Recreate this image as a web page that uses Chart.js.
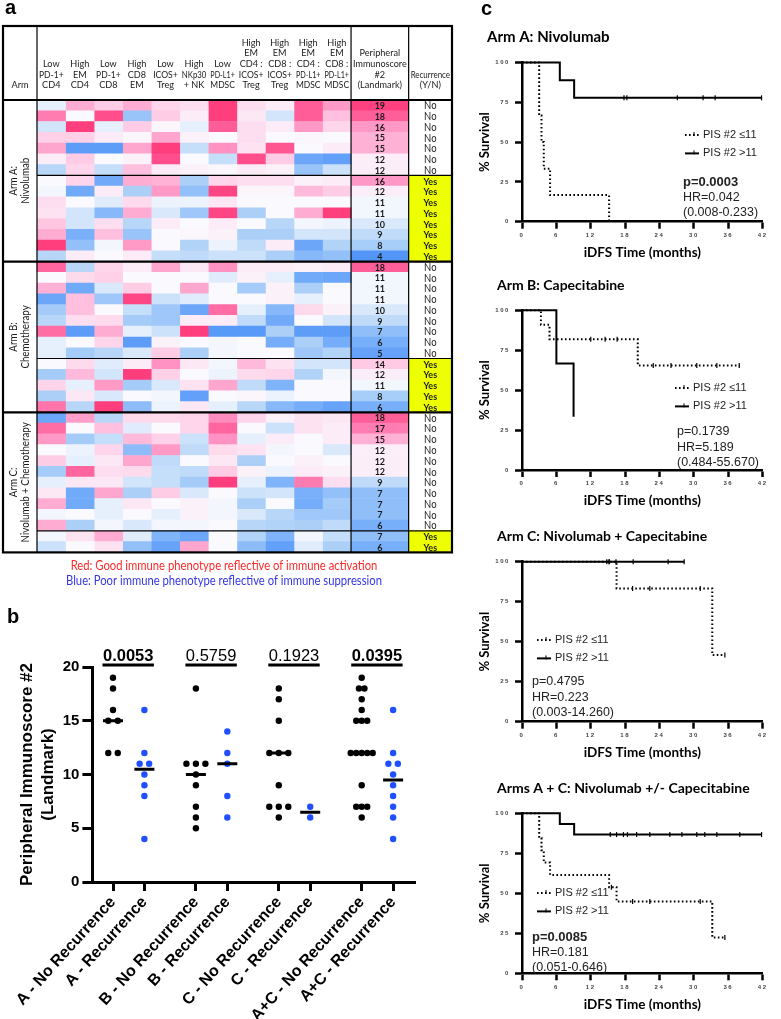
<!DOCTYPE html>
<html>
<head>
<meta charset="utf-8">
<script src="https://cdn.jsdelivr.net/npm/chart.js@4.4.1/dist/chart.umd.min.js"></script>
<style>
  html, body { margin: 0; padding: 0; background: #fff; }
  body { width: 781px; height: 1019px; position: relative; overflow: hidden; }
  canvas { position: absolute; }
</style>
</head>
<body>
<canvas id="heat" width="460" height="600" style="left:0;top:0"></canvas>
<canvas id="dots" width="460" height="419" style="left:0;top:600px"></canvas>
<canvas id="km0" width="321" height="260" style="left:460px;top:0"></canvas>
<canvas id="km1" width="321" height="260" style="left:460px;top:250px"></canvas>
<canvas id="km2" width="321" height="260" style="left:460px;top:500px"></canvas>
<canvas id="km3" width="321" height="269" style="left:460px;top:750px"></canvas>
<script>
// ---------- panel a: heatmap table ----------
const MARKERS = [
  ["Low", "PD-1+", "CD4"], ["High", "EM", "CD4"], ["Low", "PD-1+", "CD8"], ["High", "CD8", "EM"],
  ["Low", "ICOS+", "Treg"], ["High", "NKp30", "+ NK"], ["Low", "PD-L1+", "MDSC"],
  ["High", "EM", "CD4 :", "ICOS+", "Treg"], ["High", "EM", "CD8 :", "ICOS+", "Treg"],
  ["High", "EM", "CD4 :", "PD-L1+", "MDSC"], ["High", "EM", "CD8 :", "PD-L1+", "MDSC"]
]
const PIS_HEADER = ["Peripheral", "Immunoscore", "#2", "(Landmark)"]
const REC_HEADER = ["Recurrence", "(Y/N)"]
const ARM_NAMES = [["Arm A:", "Nivolumab"], ["Arm B:", "Chemotherapy"], ["Arm C:", "Nivolumab + Chemotherapy"]]

const PIS_A = [19, 18, 16, 15, 15, 12, 12, 16, 12, 11, 11, 10, 9, 8, 4]
const REC_A = ["No", "No", "No", "No", "No", "No", "No", "Yes", "Yes", "Yes", "Yes", "Yes", "Yes", "Yes", "Yes"]
const CELLS_A = [
  [-0.3, 1.5, 1.0, 1.5, 0.8, 0.6, 3.0, 0.6, 0.3, 2.6, 1.8],
  [2.2, 0, 2.8, -1.5, 1.0, 0.3, 3.0, 0.4, -0.6, 2.6, 1.2],
  [-0.6, 3.0, -0.3, 1.0, 0.1, -0.3, 2.6, 0.6, 0.3, 1.8, 0.8],
  [0.9, 0.9, 0.3, 0.1, 1.6, 0.2, 0, 0.6, 0, 0.1, 0],
  [1.6, -2.6, -2.6, 1.6, 3.0, -0.8, 1.9, 0.5, 2.7, 0, 0.3],
  [0.3, 1.0, 0, 0.2, 2.8, 0, -0.8, 2.8, 1.0, -2.3, -2.5],
  [-1.0, 0.8, -0.8, 1.2, 0.3, 0.2, 0.1, 0.3, 0.2, -1.5, -0.7],
  [0, 0.8, -2.2, 1.5, 1.4, -1.2, 0.8, 0.6, 0.6, 0.2, 0.3],
  [-0.1, -2.2, 0.3, -1.2, 1.8, -1.6, 2.9, 0.1, 0.1, 1.3, 1.0],
  [0.6, 0, -0.4, 0.7, -0.2, -0.2, 0.4, 0, 0, 0, 0],
  [0.5, -0.6, -1.8, 1.5, -0.5, -1.4, 2.9, -1.2, 0, 1.5, 3.0],
  [1.1, -0.6, 0.6, -1.0, 0.3, 0, 0.3, 0, -1.0, -0.1, -0.2],
  [1.5, -2.0, 1.2, -1.5, 0, 0.1, 0.2, -1.2, -1.2, -0.6, -0.6],
  [3.0, -1.6, -0.1, 1.8, 0, -1.1, -0.2, -0.9, 0.3, -2.3, -1.1],
  [-1.0, 0.3, 0, 0.3, -0.8, -0.9, -0.7, -0.7, -1.2, -1.8, -1.6]
]

const PIS_B = [18, 11, 11, 11, 10, 9, 7, 6, 5, 14, 12, 11, 8, 6]
const REC_B = ["No", "No", "No", "No", "No", "No", "No", "No", "No", "Yes", "Yes", "Yes", "Yes", "Yes"]
const CELLS_B = [
  [2.5, -1.0, 0.8, 0.3, 1.6, 0.4, 1.9, 0.3, 0.3, 0.2, 0.3],
  [0, 0.7, 0.9, 0, 0, 0, -0.4, 0.2, -0.3, -2.2, -2.3],
  [1.4, -2.2, -0.5, 1.0, 0, 1.6, 0, -1.3, 0.2, -1.2, 0],
  [-2.3, 1.2, -1.4, 2.9, -0.7, -0.4, 0, 0, 0.2, -0.3, 0],
  [-1.3, 1.2, 0, -0.8, -1.4, -2.3, 2.4, -0.3, -1.8, 0.7, 0.2],
  [-1.0, 0.6, 0.7, -1.3, -1.4, 0.3, 0.3, -0.9, -2.2, 0, -0.6],
  [2.4, -2.6, 1.5, -0.3, -0.7, 3.0, -2.7, -2.7, -1.2, -2.6, -2.6],
  [-0.3, 0, 0.8, -2.6, 0.2, 0, -0.1, 0, -2.1, -1.2, -2.1],
  [-0.3, -1.3, -1.0, -0.5, 1.0, -1.2, -0.1, 0, 0, -1.4, -1.1],
  [0, 0.7, -0.4, 0.3, 1.9, 0.4, -0.1, 1.3, 0.5, -0.6, -0.6],
  [-1.3, 1.3, -0.6, 3.0, 0.9, 0, -0.2, 0.7, 0.8, -1.1, -0.1],
  [0.8, -0.3, 1.8, -1.3, -0.5, 0.5, 1.6, -0.9, -1.9, 0, 0],
  [-1.2, 0.4, -0.5, 0, -0.1, -2.5, 0, 0.1, -0.2, 0, 0],
  [2.3, -1.0, 3.0, -1.7, -0.2, 0.4, -0.3, -1.0, -1.8, -2.1, -2.4]
]

const PIS_C = [18, 17, 15, 12, 12, 12, 9, 7, 7, 7, 6, 7, 6]
const REC_C = ["No", "No", "No", "No", "No", "No", "No", "No", "No", "No", "No", "Yes", "Yes"]
const CELLS_C = [
  [-2.3, 1.7, -1.0, 0.7, 0.7, 0.8, 2.0, 0.8, 0.2, 0.5, 0.4],
  [2.4, 0, 1.2, -0.4, 0, 0.8, 2.5, 0, -0.7, 0.5, 0.3],
  [1.8, -1.3, -0.8, 1.3, 0.9, -0.7, 1.9, -0.3, 0.3, 0, 0.3],
  [0, -0.2, 0.8, -1.7, 1.8, -0.9, 0.7, 0.5, -0.1, 0, -0.5],
  [1.0, -0.3, 0.4, 1.6, -0.9, 0, 0.4, -1.2, 0, 0.2, 0],
  [-1.3, 2.5, 0.6, 0.7, -0.8, -0.9, 1.0, 0.2, -0.2, 0.3, 0.2],
  [-0.3, 0.4, 0.4, -0.6, -0.8, -1.3, 3.0, -0.3, -1.9, 2.2, 0.6],
  [0.4, -2.2, 1.6, -1.2, 1.0, -0.5, 0, -0.7, -0.6, -2.0, -1.6],
  [1.5, -2.2, -0.3, 0.4, 0, 0.2, -0.1, -1.2, 0, -2.1, -1.3],
  [-0.1, 0, -0.3, 0, -0.3, 0.2, -0.1, -0.5, -1.0, -1.4, -1.4],
  [1.5, -1.2, -0.1, -0.5, -0.1, -0.1, 0, -1.0, -1.1, -1.2, -0.9],
  [-0.1, 0.5, 1.5, -0.4, -1.9, -2.3, 0, -1.1, -1.9, -0.1, -0.8],
  [-0.7, 0, 0.5, -1.6, -2.4, 1.6, 0, -1.7, -2.5, -0.4, -1.2]
]

const LEGEND_RED = "Red: Good immune phenotype reflective of immune activation"
const LEGEND_BLUE = "Blue: Poor immune phenotype reflective of immune suppression"

// ---------- panel b: dot plot ----------
const GROUP_LABELS = ["A - No Recurrence", "A - Recurrence", "B - No Recurrence", "B - Recurrence",
  "C - No Recurrence", "C - Recurrence", "A+C - No Recurrence", "A+C - Recurrence"]
const P_VALUES = ["0.0053", "0.5759", "0.1923", "0.0395"]
const P_BOLD = [true, false, false, true]

// ---------- panel c: Kaplan-Meier ----------
const KM_TITLES = ["Arm A: Nivolumab", "Arm B: Capecitabine", "Arm C: Nivolumab + Capecitabine", "Arms A + C: Nivolumab +/- Capecitabine"]
const KM_SERIES = ["PIS #2 \u226411", "PIS #2 >11"]
const KM_P = ["p=0.0003", "p=0.1739", "p=0.4795", "p=0.0085"]
const KM_P_BOLD = [true, false, false, true]
const KM_HR = ["HR=0.042", "HR=5.189", "HR=0.223", "HR=0.181"]
const KM_CI = ["(0.008-0.233)", "(0.484-55.670)", "(0.003-14.260)", "(0.051-0.646)"]

const A_LO_T = [0, 3.0, 3.4, 3.8, 4.9, 15.2]
const A_LO_S = [100, 66.7, 50, 33.3, 16.7, 0]
const A_LO_CENS = []
const A_HI_T = [0, 6.6, 9.1, 41.8]
const A_HI_S = [100, 88.9, 77.8, 77.8]
const A_HI_CENS = [17.8, 18.3, 27.1, 31.6, 33.7, 41.8]

const B_LO_T = [0, 3.3, 4.8, 20.2, 38.0]
const B_LO_S = [100, 90.9, 81.8, 65.5, 65.5]
const B_LO_CENS = [12.0, 14.5, 16.6, 22.9, 26.0, 30.5, 34.0, 37.9]
const B_HI_T = [0, 6.0, 9.0]
const B_HI_S = [100, 66.7, 33.3]
const B_HI_CENS = []

const C_LO_T = [0, 16.5, 33.2, 35.4]
const C_LO_S = [100, 83.3, 41.7, 41.7]
const C_LO_CENS = [15.2, 19.3, 22.3, 31.1, 35.4]
const C_HI_T = [0, 28.3]
const C_HI_S = [100, 100]
const C_HI_CENS = [14.8, 15.2, 16.4, 19.4, 25.5, 28.3]

const AC_LO_T = [0, 3.0, 3.4, 3.8, 4.9, 15.2, 16.5, 33.2, 35.4]
const AC_LO_S = [100, 84.6, 76.9, 69.2, 61.5, 53.8, 44.9, 22.4, 22.4]
const AC_LO_CENS = [15.6, 19.3, 22.3, 31.1, 35.4]
const AC_HI_T = [0, 6.6, 9.1, 41.8]
const AC_HI_S = [100, 93.3, 86.7, 86.7]
const AC_HI_CENS = [15.4, 16.5, 17.7, 18.4, 20.0, 22.3, 25.8, 27.9, 30.5, 31.9, 34.0, 38.0, 41.8]

// ---------- layout ----------
const SANS = "'Liberation Sans', Arial, sans-serif"
const CAL = "Lato, 'Open Sans', sans-serif"
const TABLE = { left: 3, top: 26, head: 100, bottom: 552.4, right: 452 }
const ARM_W = 34, CELL_W = 28.55, PIS_W = 57.6
const EDGES = [0, ARM_W]
for (let i = 1; i <= MARKERS.length; ++i) EDGES.push(ARM_W + CELL_W * i)
EDGES.push(EDGES[EDGES.length - 1] + PIS_W)
EDGES.push(TABLE.right - TABLE.left)

Chart.defaults.font.family = SANS
Chart.defaults.color = "#000"

// Lato is wider than the Calibri of the original, so squeeze it a little
function fillNarrow(ctx, text, x, y, sx, maxW) {
  if (maxW) sx = Math.min(sx, maxW / ctx.measureText(text).width)
  ctx.save()
  ctx.translate(x, y)
  ctx.scale(sx, 1)
  ctx.fillText(text, 0, 0)
  ctx.restore()
}

function heatColor(v) {
  const stops = [[-3, [74, 144, 247]], [-2, [122, 176, 250]], [-1, [184, 215, 248]], [0, [250, 250, 254]],
    [1, [255, 204, 230]], [2, [255, 140, 190]], [3, [255, 62, 126]]]
  v = Math.max(-3, Math.min(3, v))
  for (let i = 0; i < stops.length - 1; ++i) {
    const [a, ca] = stops[i], [b, cb] = stops[i + 1]
    if (v <= b) {
      const t = (v - a) / (b - a)
      return "rgb(" + ca.map((c, k) => Math.round(c + (cb[k] - c) * t)).join(",") + ")"
    }
  }
}
const pisColor = p => heatColor((p - 11.3) / 2.6)

const rows = []
;[[PIS_A, REC_A, CELLS_A], [PIS_B, REC_B, CELLS_B], [PIS_C, REC_C, CELLS_C]].forEach(([pis, rec, cells], arm) => {
  pis.forEach((p, i) => rows.push({ arm, pis: p, rec: rec[i], cells: cells[i] }))
})

const heatDatasets = MARKERS.map((m, c) => ({
  data: rows.map(() => [EDGES[c + 1], EDGES[c + 2]]),
  backgroundColor: rows.map(r => heatColor(r.cells[c])),
}))
heatDatasets.push({ data: rows.map(() => [EDGES[12], EDGES[13]]), backgroundColor: rows.map(r => pisColor(r.pis)) })
heatDatasets.push({ data: rows.map(() => [EDGES[13], EDGES[14]]), backgroundColor: rows.map(r => r.rec == "Yes" ? "#eeff00" : "#ffffff") })
heatDatasets.forEach(d => { d.grouped = false; d.barPercentage = 1; d.categoryPercentage = 1; d.borderWidth = 0 })

const heatDecor = {
  id: "heatDecor",
  afterDatasetsDraw(chart) {
    const { ctx, chartArea: a } = chart
    const px = v => chart.scales.x.getPixelForValue(v)
    const rowH = (a.bottom - a.top) / rows.length
    const rowY = i => a.top + i * rowH
    const mid = c => (px(EDGES[c]) + px(EDGES[c + 1])) / 2
    const width = c => px(EDGES[c + 1]) - px(EDGES[c])
    ctx.save()

    ctx.fillStyle = "#000"
    ctx.font = "bold 20px " + SANS
    ctx.textAlign = "left"
    ctx.textBaseline = "alphabetic"
    ctx.fillText("a", 5, 14)

    // header
    ctx.fillStyle = "#1a1a1a"
    ctx.font = "10.4px " + CAL
    ctx.textAlign = "center"
    ctx.textBaseline = "middle"
    const header = (lines, c) => lines.forEach((t, i) =>
      fillNarrow(ctx, t, mid(c), 85 - (lines.length - 1 - i) * 10.7, 0.88, width(c) - 4))
    header(["Arm"], 0)
    MARKERS.forEach((m, c) => header(m, c + 1))
    header(PIS_HEADER, 12)
    header(REC_HEADER, 13)

    // cell text
    rows.forEach((r, i) => {
      const cy = rowY(i) + rowH / 2 + 0.5
      ctx.font = "bold 10px " + CAL
      fillNarrow(ctx, String(r.pis), mid(12), cy, 0.9)
      ctx.font = (r.rec == "Yes" ? "bold 10px " : "10.5px ") + CAL
      fillNarrow(ctx, r.rec, mid(13), cy, 0.9)
    })

    // arm labels
    let start = 0
    const bounds = []
    ARM_NAMES.forEach((name, k) => {
      const n = rows.filter(r => r.arm == k).length
      const cy = rowY(start + n / 2)
      ctx.save()
      ctx.translate(mid(0), cy)
      ctx.rotate(-Math.PI / 2)
      ctx.font = "10.6px " + CAL
      fillNarrow(ctx, name[0], 0, -6, 0.92)
      fillNarrow(ctx, name[1], 0, 6, 0.92)
      ctx.restore()
      const firstYes = rows.findIndex(r => r.arm == k && r.rec == "Yes")
      bounds.push({ end: start + n, yes: firstYes })
      start += n
    })

    // lines
    ctx.strokeStyle = "#000"
    const line = (x1, y1, x2, y2, w) => { ctx.lineWidth = w; ctx.beginPath(); ctx.moveTo(x1, y1); ctx.lineTo(x2, y2); ctx.stroke() }
    const L = px(EDGES[0]), R = px(EDGES[14])
    bounds.forEach((b, k) => {
      line(px(EDGES[1]), rowY(b.yes), R, rowY(b.yes), 1.2)
      if (k < bounds.length - 1) line(L, rowY(b.end), R, rowY(b.end), 2.2)
    })
    ;[1, 12, 13].forEach(c => line(px(EDGES[c]), TABLE.top, px(EDGES[c]), a.bottom, 1.2))
    line(L, a.top, R, a.top, 2.2)
    ctx.lineWidth = 2.2
    ctx.strokeRect(L, TABLE.top, R - L, a.bottom - TABLE.top)

    // colour legend
    ctx.font = "12.5px " + CAL
    ctx.fillStyle = "#ff2a2a"
    fillNarrow(ctx, LEGEND_RED, 224, 566, 0.9)
    ctx.fillStyle = "#3535e8"
    fillNarrow(ctx, LEGEND_BLUE, 224, 581, 0.9)
    ctx.restore()
  }
}

new Chart(document.getElementById("heat"), {
  type: "bar",
  data: { labels: rows.map((r, i) => i), datasets: heatDatasets },
  options: {
    responsive: false, animation: false, events: [], indexAxis: "y",
    layout: { padding: { left: TABLE.left, right: 460 - TABLE.right, top: TABLE.head, bottom: 600 - TABLE.bottom } },
    plugins: { legend: { display: false }, tooltip: { enabled: false } },
    scales: {
      x: { type: "linear", min: 0, max: EDGES[14], display: false },
      y: { type: "category", display: false, offset: true },
    },
  },
  plugins: [heatDecor],
})

// ---------- panel b ----------
const UNIT_PX = 31.4
const groupPos = i => Math.floor(i / 2) * 2.64 + (i % 2)
const pick = (pis, rec, want) => pis.filter((p, i) => rec[i] == want)
const groups = [
  pick(PIS_A, REC_A, "No"), pick(PIS_A, REC_A, "Yes"),
  pick(PIS_B, REC_B, "No"), pick(PIS_B, REC_B, "Yes"),
  pick(PIS_C, REC_C, "No"), pick(PIS_C, REC_C, "Yes"),
  pick(PIS_A, REC_A, "No").concat(pick(PIS_C, REC_C, "No")),
  pick(PIS_A, REC_A, "Yes").concat(pick(PIS_C, REC_C, "Yes")),
]
const median = vals => {
  const s = [...vals].sort((a, b) => a - b), n = s.length
  return n % 2 ? s[(n - 1) / 2] : (s[n / 2 - 1] + s[n / 2]) / 2
}
function spread(vals, pos) {
  const counts = {}
  vals.forEach(v => counts[v] = (counts[v] || 0) + 1)
  const maxN = Math.max(...Object.values(counts))
  const gap = Math.min(9.5, 22 / Math.max(1, maxN - 1)) / UNIT_PX
  const seen = {}
  return vals.map(v => {
    seen[v] = (seen[v] ?? -1) + 1
    return { x: pos + (seen[v] - (counts[v] - 1) / 2) * gap, y: v }
  })
}
const noDots = [], yesDots = []
groups.forEach((g, i) => (i % 2 ? yesDots : noDots).push(...spread(g, groupPos(i))))

const dotDecor = {
  id: "dotDecor",
  afterDraw(chart) {
    const { ctx, chartArea: a } = chart
    const x = chart.scales.x, y = chart.scales.y
    ctx.save()
    ctx.fillStyle = "#000"
    ctx.font = "bold 20px " + SANS
    ctx.textBaseline = "alphabetic"
    ctx.fillText("b", 7, 23)
    const barY = y.getPixelForValue(20) - 2
    P_VALUES.forEach((p, k) => {
      const x1 = x.getPixelForValue(groupPos(2 * k)) - 10.5
      const x2 = x.getPixelForValue(groupPos(2 * k + 1)) + 9.5
      ctx.fillRect(x1, barY - 1.5, x2 - x1, 3)
      ctx.font = (P_BOLD[k] ? "bold " : "") + "16.5px " + SANS
      ctx.textAlign = "center"
      ctx.fillText(p, (x1 + x2) / 2, barY - 4)
    })
    ctx.translate(0, (a.top + a.bottom) / 2)
    ctx.rotate(-Math.PI / 2)
    ctx.font = "bold 17px " + SANS
    ctx.textBaseline = "middle"
    ctx.fillText("Peripheral Immunoscore #2", 0, 27.6)
    ctx.fillText("(Landmark)", 0, 48)
    ctx.restore()
  }
}

new Chart(document.getElementById("dots"), {
  type: "scatter",
  data: {
    datasets: [
      { data: groups.map((g, i) => ({ x: groupPos(i), y: median(g) })), pointStyle: "line", pointRadius: 10,
        pointBorderWidth: 3, pointBorderColor: "#000" },
      { data: noDots, pointRadius: 3.2, pointBackgroundColor: "#000", pointBorderWidth: 0 },
      { data: yesDots, pointRadius: 3.2, pointBackgroundColor: "#1f4fff", pointBorderWidth: 0 },
    ]
  },
  options: {
    responsive: false, animation: false, events: [],
    layout: { padding: { left: 0, top: 67, right: 460 - 415.5, bottom: 0 } },
    plugins: { legend: { display: false }, tooltip: { enabled: false } },
    scales: {
      x: {
        type: "linear", min: -0.656, max: 9.633,
        afterBuildTicks: s => { s.ticks = GROUP_LABELS.map((l, i) => ({ value: groupPos(i) })) },
        afterFit: s => { s.height = 137 },
        ticks: { autoSkip: false, minRotation: 48, maxRotation: 48, padding: 2, color: "#000",
          font: { size: 16, weight: "bold" }, callback: (v, i) => GROUP_LABELS[i] },
        grid: { drawOnChartArea: false, tickLength: 9, tickWidth: 3, tickColor: "#000" },
        border: { width: 3, color: "#000" },
      },
      y: {
        min: 0, max: 20,
        afterFit: s => { s.width = 92.4 },
        ticks: { stepSize: 5, padding: 3, color: "#000", font: { size: 15, weight: "bold" } },
        grid: { drawOnChartArea: false, tickLength: 10, tickWidth: 3, tickColor: "#000" },
        border: { width: 3, color: "#000" },
      },
    },
  },
  plugins: [dotDecor],
})

// ---------- panel c ----------
const KM_BOX = [
  { top: 0, h: 260, plotTop: 62.5, plotBottom: 221.7, titleX: 487, titleSize: 15, legX: 685, legY: 135, statX: 683, statY: 182 },
  { top: 250, h: 260, plotTop: 310.3, plotBottom: 470, titleX: 497, titleSize: 14, legX: 675, legY: 388, statX: 677, statY: 432 },
  { top: 500, h: 260, plotTop: 561.7, plotBottom: 721.7, titleX: 497, titleSize: 14, legX: 537, legY: 640, statX: 532, statY: 682 },
  { top: 750, h: 269, plotTop: 813.3, plotBottom: 973.3, titleX: 497, titleSize: 14, legX: 537, legY: 893, statX: 532, statY: 937 },
]
const KM_LEFT = 460, PLOT_L = 522, PLOT_R = 762.7

const survAt = (T, S, t) => { let s = S[0]; T.forEach((tt, i) => { if (tt <= t) s = S[i] }); return s }
const curve = (T, S) => T.map((t, i) => ({ x: t, y: S[i] }))
const DOTTED = [1.6, 2.4]

function kmChart(k, lo, hi) {
  const box = KM_BOX[k]
  const decor = {
    id: "kmDecor",
    beforeDraw(chart) { chart.ctx.letterSpacing = "1.6px" },
    afterDraw(chart) {
      const ctx = chart.ctx, a = chart.chartArea
      const ox = KM_LEFT, oy = box.top
      ctx.save()
      ctx.letterSpacing = "0px"
      ctx.fillStyle = "#000"
      ctx.strokeStyle = "#000"
      if (k == 0) {
        ctx.font = "bold 20px " + SANS
        ctx.fillText("c", 481 - ox, 15)
      }
      ctx.font = "bold " + box.titleSize + "px " + CAL
      ctx.textBaseline = "middle"
      ctx.fillText(KM_TITLES[k], box.titleX - ox, box.plotTop - 25 - oy)
      ctx.font = "bold 13.5px " + CAL
      ctx.textAlign = "center"
      ctx.fillText("iDFS Time (months)", (a.left + a.right) / 2, a.bottom + 31)
      ctx.save()
      ctx.translate(485 - ox, (a.top + a.bottom) / 2)
      ctx.rotate(-Math.PI / 2)
      ctx.font = "bold 13px " + CAL
      ctx.fillText("% Survival", 0, 0)
      ctx.restore()

      // legend
      ctx.textAlign = "left"
      ctx.font = "11px " + SANS
      ctx.fillStyle = "#222"
      ;[0, 1].forEach(j => {
        const y = box.legY + j * 18.4 - oy, x = box.legX - ox
        ctx.lineWidth = 2
        ctx.setLineDash(j == 0 ? DOTTED : [])
        ctx.beginPath(); ctx.moveTo(x, y); ctx.lineTo(x + 14, y); ctx.stroke()
        ctx.setLineDash([])
        ctx.lineWidth = 1
        ctx.beginPath(); ctx.moveTo(x + 9, y - 3); ctx.lineTo(x + 9, y + 1); ctx.stroke()
        ctx.fillText(KM_SERIES[j], x + 18, y)
      })
      // stats
      const sx = box.statX - ox, sy = box.statY - oy
      ctx.font = (KM_P_BOLD[k] ? "bold 13px " : "12.5px ") + SANS
      ctx.fillText(KM_P[k], sx, sy)
      ctx.font = "12.5px " + SANS
      ctx.fillText(KM_HR[k], sx, sy + 15.5)
      ctx.fillText(KM_CI[k], sx, sy + 31)
      ctx.restore()
    }
  }
  const line = (T, S, dash) => ({ data: curve(T, S), showLine: true, stepped: "before", borderColor: "#000",
    borderWidth: 2, borderDash: dash, borderCapStyle: "butt", pointRadius: 0, clip: false })
  const cens = (T, S, C) => ({ data: C.map(t => ({ x: t, y: survAt(T, S, t) })), pointStyle: "line", rotation: 90,
    pointRadius: 2.5, pointBorderWidth: 1.2, pointBorderColor: "#000", clip: false })
  return new Chart(document.getElementById("km" + k), {
    type: "scatter",
    data: { datasets: [line(hi[0], hi[1], []), cens(...hi), line(lo[0], lo[1], DOTTED), cens(...lo)] },
    options: {
      responsive: false, animation: false, events: [],
      layout: { padding: { left: 0, top: box.plotTop - box.top, right: 321 - (PLOT_R - KM_LEFT), bottom: 0 } },
      plugins: { legend: { display: false }, tooltip: { enabled: false } },
      scales: {
        x: {
          type: "linear", min: 0, max: 42,
          afterFit: s => { s.height = box.h - (box.plotBottom - box.top) },
          ticks: { stepSize: 6, padding: 3, color: "#444", font: { size: 6, weight: "bold" } },
          grid: { drawOnChartArea: false, tickLength: 7, tickWidth: 2.5, tickColor: "#000" },
          border: { width: 2.5, color: "#000" },
        },
        y: {
          min: 0, max: 100,
          afterFit: s => { s.width = PLOT_L - KM_LEFT },
          ticks: { stepSize: 25, padding: 5, color: "#444", font: { size: 6, weight: "bold" } },
          grid: { drawOnChartArea: false, tickLength: 7, tickWidth: 2.5, tickColor: "#000" },
          border: { width: 2.5, color: "#000" },
        },
      },
    },
    plugins: [decor],
  })
}

kmChart(0, [A_LO_T, A_LO_S, A_LO_CENS], [A_HI_T, A_HI_S, A_HI_CENS])
kmChart(1, [B_LO_T, B_LO_S, B_LO_CENS], [B_HI_T, B_HI_S, B_HI_CENS])
kmChart(2, [C_LO_T, C_LO_S, C_LO_CENS], [C_HI_T, C_HI_S, C_HI_CENS])
kmChart(3, [AC_LO_T, AC_LO_S, AC_LO_CENS], [AC_HI_T, AC_HI_S, AC_HI_CENS])
</script>
</body>
</html>
